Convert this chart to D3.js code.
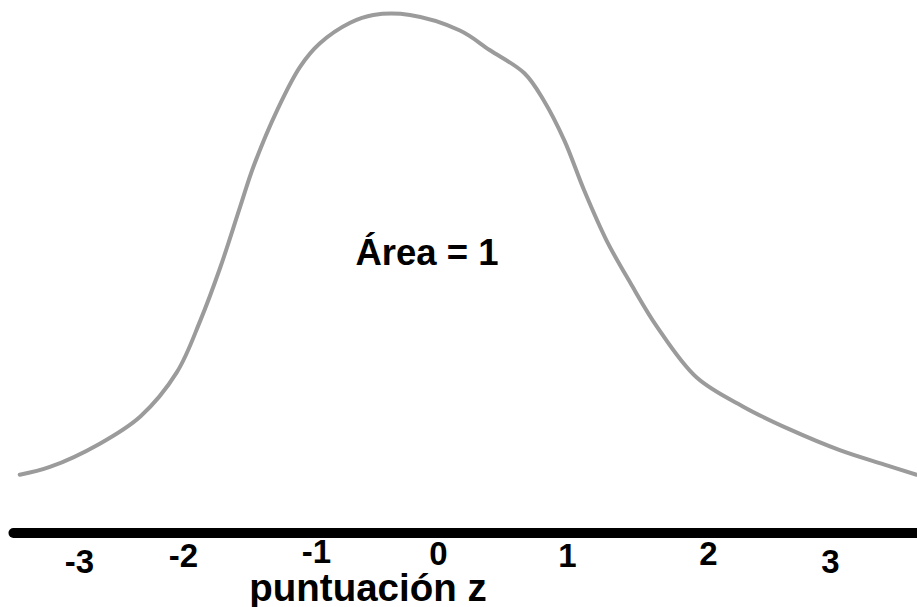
<!DOCTYPE html>
<html>
<head>
<meta charset="utf-8">
<script src="https://cdn.jsdelivr.net/npm/d3@7"></script>
<style>
  body { margin: 0; background: #fff; }
  svg { display: block; }
  text { font-family: "Liberation Sans", Arial, sans-serif; font-weight: bold; fill: #000; }
</style>
</head>
<body>
<svg id="chart"></svg>
<script>
// z values along the axis and where the hand-drawn labels sit
const zTicks = [-3, -2, -1, 0, 1, 2, 3];
const tickLabels = ["-3", "-2", "-1", "0", "1", "2", "3"];
const axisExtent = [-3.63, 3.75];

// traced curve: z position and height (density-like units)
const curveZ = [-3.57, -3.28, -2.80, -2.41, -2.06, -1.87, -1.72, -1.57, -1.47, -1.29, -1.12,
  -0.97, -0.72, -0.53, -0.23, 0.17, 0.40, 0.67, 0.82, 0.98, 1.12, 1.28, 1.45,
  1.64, 1.92, 2.30, 2.67, 3.08, 3.44, 3.71];
const curveH = [0.045, 0.051, 0.069, 0.090, 0.124, 0.164, 0.205, 0.252, 0.283, 0.327, 0.360,
  0.378, 0.394, 0.400, 0.400, 0.388, 0.373, 0.355, 0.334, 0.303, 0.265, 0.226, 0.193,
  0.159, 0.120, 0.097, 0.080, 0.064, 0.053, 0.045];

const areaLabel = "Área = 1";
const areaPos = { z: -0.09, h: 0.207 };
const axisTitle = "puntuación z";

const width = 917;
const height = 607;
const baseY = 533;

const svg = d3.select("#chart")
  .attr("width", width)
  .attr("height", height);

// the hand drawing spaces the units unevenly, so use a piecewise scale
const x = d3.scaleLinear()
  .domain(zTicks)
  .range([79, 183, 316, 438, 567, 708, 830]);

const y = d3.scaleLinear()
  .domain([0, 0.4])
  .range([baseY, 15]);

// thick baseline
svg.append("line")
  .attr("x1", x(axisExtent[0]))
  .attr("x2", x(axisExtent[1]))
  .attr("y1", y(0))
  .attr("y2", y(0))
  .attr("stroke", "#000")
  .attr("stroke-width", 10)
  .attr("stroke-linecap", "round");

// tick labels, staggered a little like the original sketch
const labelDy = [40, 34, 30, 32, 34, 32, 40];
const axis = d3.axisBottom(x)
  .tickValues(zTicks)
  .tickFormat((d, i) => tickLabels[i])
  .tickSize(0);

const gAxis = svg.append("g")
  .attr("transform", `translate(0,${y(0)})`)
  .call(axis);
gAxis.select(".domain").remove();
gAxis.selectAll("text")
  .attr("y", (d, i) => labelDy[i])
  .attr("dy", null)
  .style("font-size", "33px")
  .style("font-family", "'Liberation Sans', Arial, sans-serif")
  .style("font-weight", "bold")
  .attr("fill", "#000");

// curve
const points = curveZ.map((z, i) => [z, curveH[i]]);
const line = d3.line()
  .x(d => x(d[0]))
  .y(d => y(d[1]))
  .curve(d3.curveCatmullRom.alpha(0.5));

svg.append("path")
  .datum(points)
  .attr("d", line)
  .attr("fill", "none")
  .attr("stroke", "#9b9b9b")
  .attr("stroke-width", 4)
  .attr("stroke-linecap", "round")
  .attr("stroke-linejoin", "round");

// annotation
svg.append("text")
  .attr("x", x(areaPos.z))
  .attr("y", y(areaPos.h))
  .attr("text-anchor", "middle")
  .style("font-size", "36.5px")
  .text(areaLabel);

// axis title
svg.append("text")
  .attr("x", 368)
  .attr("y", 601)
  .attr("text-anchor", "middle")
  .style("font-size", "38.5px")
  .text(axisTitle);
</script>
</body>
</html>
